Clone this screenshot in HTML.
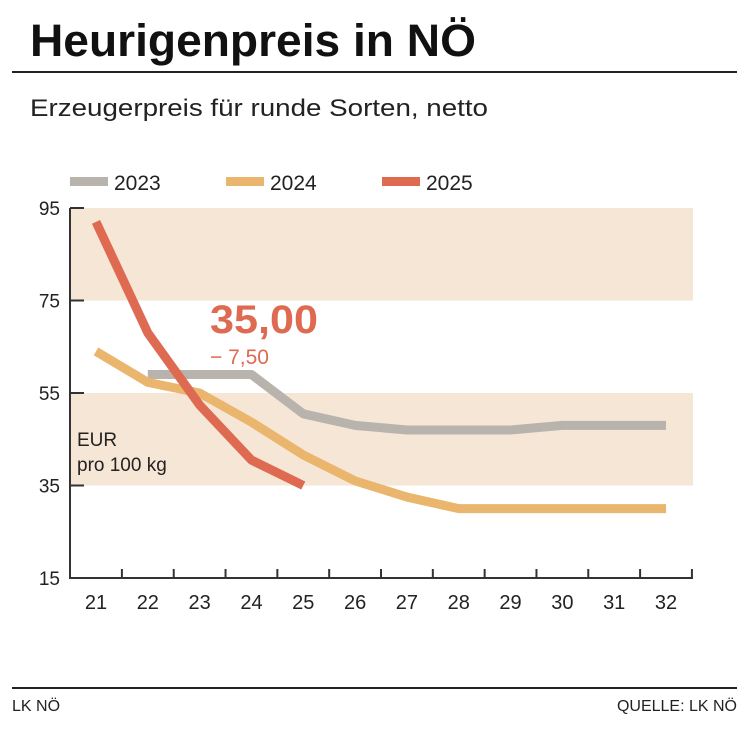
<!DOCTYPE html>
<html><head><meta charset="utf-8"><style>
body{margin:0;background:#fff;font-family:"Liberation Sans",sans-serif;}
#w{position:relative;width:750px;height:729px;overflow:hidden;}
</style></head><body>
<div id="w">
<svg width="750" height="729" xmlns="http://www.w3.org/2000/svg">
<text x="30" y="56" font-size="45" font-weight="bold" fill="#111" textLength="446" lengthAdjust="spacingAndGlyphs">Heurigenpreis in NÖ</text>
<rect x="12" y="71" width="725" height="2" fill="#222"/>
<text x="30" y="116" font-size="24" fill="#222" textLength="458" lengthAdjust="spacingAndGlyphs">Erzeugerpreis für runde Sorten, netto</text>
<g id="legend"></g>
<g id="bands"></g><g id="axes"></g><g id="lines"></g>
<text x="210" y="333" font-size="40" font-weight="bold" fill="#df6a52" textLength="108" lengthAdjust="spacingAndGlyphs">35,00</text>
<text x="210" y="364" font-size="21" fill="#df6a52">− 7,50</text>
<text x="77" y="446" font-size="19" fill="#222">EUR</text>
<text x="77" y="471" font-size="19" fill="#222">pro 100 kg</text>
<rect x="12" y="687" width="725" height="2" fill="#222"/>
<text x="12" y="711" font-size="16" fill="#222">LK NÖ</text>
<text x="737" y="711" font-size="16" fill="#222" text-anchor="end">QUELLE: LK NÖ</text>
</svg></div>
<script>
const weeks=[21,22,23,24,25,26,27,28,29,30,31,32];
const yTicks=[15,35,55,75,95];
const s2023=[null,59,59,59,50.5,48,47,47,47,48,48,48];
const s2024=[64,57.3,55,48.7,41.6,36,32.5,30,30,30,30,30];
const s2025=[92,68,52.4,40.5,35];
const seriesNames=["2023","2024","2025"];
const colors=["#b9b3ae","#eab56c","#df6a52"];
const NS="http://www.w3.org/2000/svg";
const X=w=>96+(w-21)*51.82, Y=v=>578-(v-15)*4.625;
function mk(t,a,p){const e=document.createElementNS(NS,t);for(const k in a)e.setAttribute(k,a[k]);document.getElementById(p).appendChild(e);return e;}
[[75,95],[35,55]].forEach(b=>{const r=mk('rect',{x:70,y:Y(b[1]),width:623,height:Y(b[0])-Y(b[1]),fill:'#f6e6d6'},'bands');

});
const ax=mk('path',{d:`M70,${Y(95)}V578H693`,stroke:'#333','stroke-width':2,fill:'none'},'axes');


yTicks.forEach(v=>{mk('line',{x1:70,x2:84,y1:Y(v),y2:Y(v),stroke:'#333','stroke-width':2},'axes');
const t=mk('text',{x:60,y:Y(v)+7,'font-size':19,'text-anchor':'end',fill:'#222'},'axes');t.textContent=v;

});
weeks.forEach((w,i)=>{mk('line',{x1:X(w)+25.9,x2:X(w)+25.9,y1:569,y2:578,stroke:'#333','stroke-width':2},'axes');
const t=mk('text',{x:X(w),y:609,'font-size':20,'text-anchor':'middle',fill:'#222'},'axes');t.textContent=w;

});
[s2023,s2024,s2025].forEach((s,k)=>{let d='';s.forEach((v,i)=>{if(v==null)return;d+=(d?'L':'M')+X(weeks[i])+','+Y(v);});
const p=mk('path',{d,stroke:colors[k],'stroke-width':9,fill:'none','stroke-linejoin':'round'},'lines');


const lx=[70,226,382][k];
const l=mk('rect',{x:lx,y:177,width:38,height:9,fill:colors[k]},'legend');


const t=mk('text',{x:lx+44,y:190,'font-size':21,fill:'#222'},'legend');t.textContent=seriesNames[k];

});
</script>
</body></html>
